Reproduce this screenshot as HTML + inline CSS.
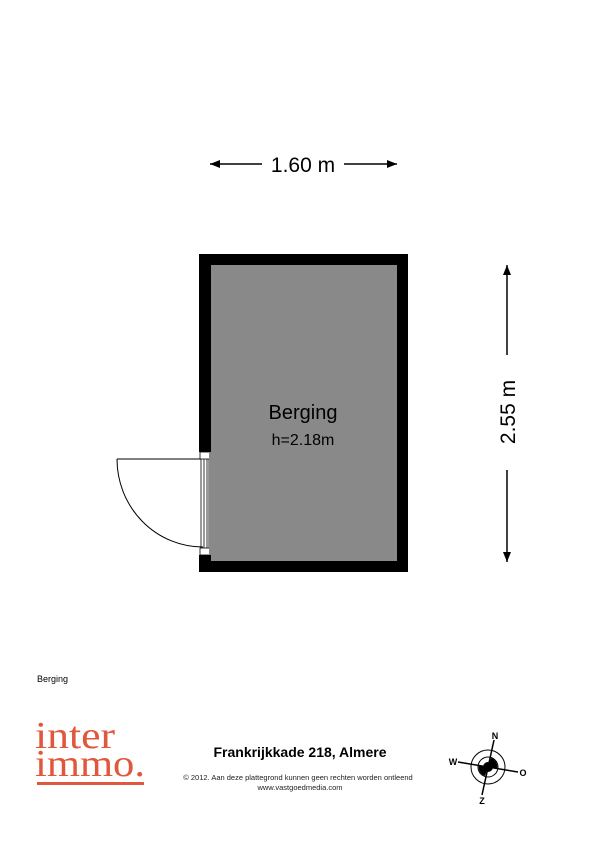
<!DOCTYPE html>
<html><head><meta charset="utf-8"><style>
html,body{margin:0;padding:0;background:#fff;}
svg{display:block;font-family:"Liberation Sans",Arial,sans-serif;}
</style></head><body>
<svg width="600" height="848" viewBox="0 0 600 848" xmlns="http://www.w3.org/2000/svg">
<defs>
<marker id="ah" markerWidth="10" markerHeight="8" refX="10" refY="4" orient="auto" markerUnits="userSpaceOnUse"><path d="M0,0 L10,4 L0,8 Z" fill="#000"/></marker>
</defs>
<line x1="262" y1="164" x2="210" y2="164" stroke="#000" stroke-width="1.5" marker-end="url(#ah)"/>
<line x1="344" y1="164" x2="397" y2="164" stroke="#000" stroke-width="1.5" marker-end="url(#ah)"/>
<text x="303" y="172" font-size="21" text-anchor="middle">1.60 m</text>
<line x1="507" y1="355" x2="507" y2="265" stroke="#000" stroke-width="1.5" marker-end="url(#ah)"/>
<line x1="507" y1="470" x2="507" y2="562" stroke="#000" stroke-width="1.5" marker-end="url(#ah)"/>
<text x="0" y="0" font-size="21" text-anchor="middle" transform="translate(515,412) rotate(-90)">2.55 m</text>
<rect x="199" y="254" width="209" height="318" fill="#000"/>
<rect x="211" y="265" width="186" height="296" fill="#898989"/>
<rect x="199" y="452" width="12" height="103" fill="#fff"/>
<rect x="200" y="452" width="10" height="7" fill="#fff" stroke="#000" stroke-width="0.8"/>
<rect x="200" y="548" width="10" height="7" fill="#fff" stroke="#000" stroke-width="0.8"/>
<line x1="201" y1="459" x2="201" y2="548" stroke="#000" stroke-width="0.8"/>
<line x1="204" y1="459" x2="204" y2="548" stroke="#000" stroke-width="0.8"/>
<line x1="207" y1="459" x2="207" y2="548" stroke="#000" stroke-width="0.8"/>
<line x1="209" y1="459" x2="209" y2="548" stroke="#000" stroke-width="0.8"/>
<rect x="209" y="452" width="2" height="103" fill="#898989"/>
<line x1="117" y1="459" x2="201" y2="459" stroke="#000" stroke-width="1"/>
<path d="M117,459 A86,88 0 0 0 203,547" fill="none" stroke="#000" stroke-width="1"/>
<text x="303" y="419" font-size="20" text-anchor="middle">Berging</text>
<text x="303" y="445" font-size="16" text-anchor="middle">h=2.18m</text>
<text x="37" y="682" font-size="9">Berging</text>
<text x="35" y="748" font-size="38" fill="#e0573b" font-family="Liberation Serif,serif" textLength="80" lengthAdjust="spacingAndGlyphs">inter</text>
<text x="35" y="776" font-size="38" fill="#e0573b" font-family="Liberation Serif,serif" textLength="110" lengthAdjust="spacingAndGlyphs">immo.</text>
<rect x="37" y="782" width="107" height="3" fill="#e0573b"/>
<text x="300" y="757" font-size="14" font-weight="bold" text-anchor="middle">Frankrijkkade 218, Almere</text>
<text x="298" y="780" font-size="7.5" text-anchor="middle" fill="#222">© 2012. Aan deze plattegrond kunnen geen rechten worden ontleend</text>
<text x="300" y="790" font-size="7.5" text-anchor="middle" fill="#222">www.vastgoedmedia.com</text>
<circle cx="488" cy="767" r="17" fill="none" stroke="#000" stroke-width="1"/>
<circle cx="488" cy="767" r="10" fill="none" stroke="#000" stroke-width="1"/>
<path d="M491,758 A9,9 0 0 1 497,769 L488,767 Z" fill="#000"/>
<path d="M485,776 A9,9 0 0 1 479,765 L488,767 Z" fill="#000"/>
<circle cx="488" cy="767" r="5" fill="#000"/>
<line x1="494" y1="740" x2="482" y2="795" stroke="#000" stroke-width="1.5"/>
<line x1="458" y1="762" x2="518" y2="772" stroke="#000" stroke-width="1.5"/>
<text x="495" y="739" font-size="9" font-weight="bold" text-anchor="middle">N</text>
<text x="482" y="804" font-size="9" font-weight="bold" text-anchor="middle">Z</text>
<text x="453" y="765" font-size="9" font-weight="bold" text-anchor="middle">W</text>
<text x="523" y="776" font-size="9" font-weight="bold" text-anchor="middle">O</text>
</svg>
</body></html>
